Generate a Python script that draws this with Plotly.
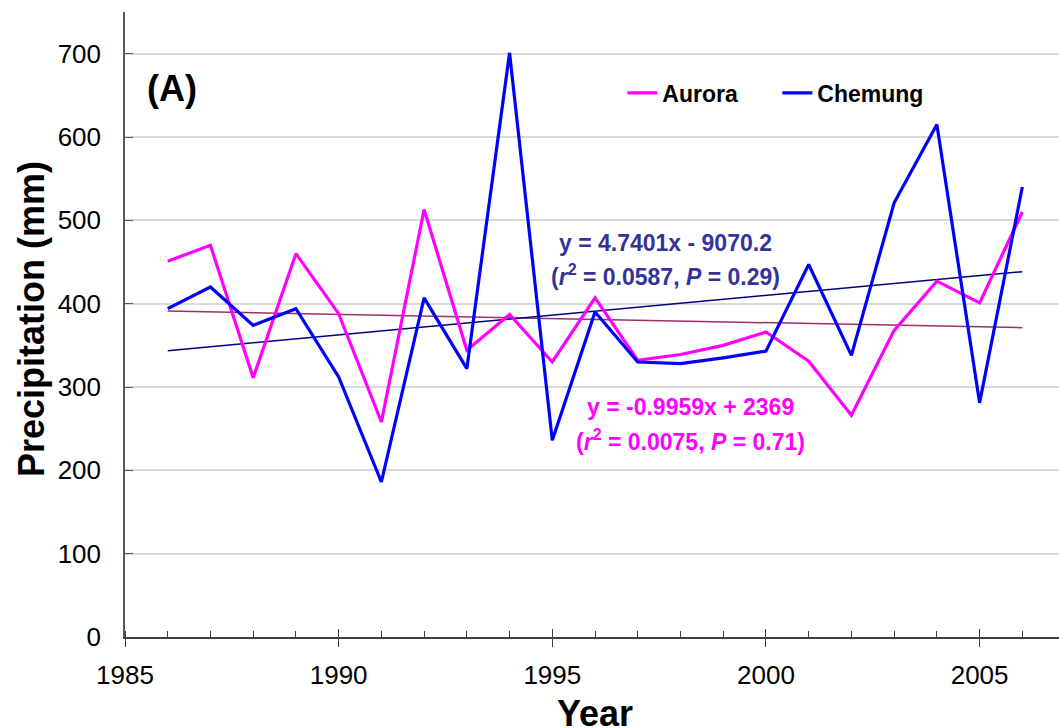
import numpy as np
import plotly.graph_objects as go

# Annual precipitation (mm) for two watersheds
years = list(range(1986, 2007))
aurora = [451, 470, 311, 460, 388, 258, 513, 344, 387, 330, 407,
          332, 339, 350, 366, 331, 266, 368, 427, 401, 510]
chemung = [394, 420, 374, 394, 312, 186, 407, 322, 701, 236, 390,
           330, 328, 335, 343, 447, 338, 521, 615, 281, 540]

# Linear fits: precipitation = slope * year + intercept
fit_names = ["Aurora", "Chemung"]
fit_slope = [-0.9959, 4.7401]
fit_intercept = [2369.0, -9070.2]
fit_r2 = ["0.0075", "0.0587"]
fit_p = ["0.71", "0.29"]

y_ticks = [0, 100, 200, 300, 400, 500, 600, 700]
x_ticks = [1985, 1990, 1995, 2000, 2005]

FONT = "Liberation Sans, Arial, sans-serif"
MAGENTA = "#FF00FF"
BLUE = "#0000FF"
TREND_COLORS = ["#993366", "#000080"]
TEXT_COLORS = [MAGENTA, "#333399"]

fig = go.Figure()

# Trend lines from the fitted equations
fx = np.array([years[0], years[-1]], dtype=float)
for i in range(2):
    fig.add_trace(go.Scatter(
        x=fx, y=fit_slope[i] * fx + fit_intercept[i],
        mode="lines", line=dict(color=TREND_COLORS[i], width=1.5),
        showlegend=False, hoverinfo="skip"))

fig.add_trace(go.Scatter(x=years, y=aurora, name="Aurora", mode="lines",
                         line=dict(color=MAGENTA, width=3.2)))
fig.add_trace(go.Scatter(x=years, y=chemung, name="Chemung", mode="lines",
                         line=dict(color=BLUE, width=3.2)))

# Invisible trace on the overlay axis so the crossing major ticks render
fig.add_trace(go.Scatter(x=[1985], y=[0], xaxis="x2", mode="markers",
                         marker=dict(opacity=0), showlegend=False,
                         hoverinfo="skip"))

x_range = [1985, 1985 + 934 / 42.73]
tick_font = dict(size=26, family=FONT, color="black")

fig.update_layout(
    width=1059, height=728,
    margin=dict(l=125, r=0, t=12, b=91),
    paper_bgcolor="white", plot_bgcolor="white",
    font=dict(family=FONT, color="black", size=24),
    showlegend=True,
    legend=dict(orientation="h", x=0.5325, y=0.8704, xanchor="left",
                yanchor="middle",
                font=dict(size=23, family=FONT, weight="bold"),
                bgcolor="rgba(0,0,0,0)", itemwidth=30,
                entrywidth=110, entrywidthmode="pixels"),
    xaxis=dict(
        range=x_range, tickvals=x_ticks, ticktext=[str(v) for v in x_ticks],
        tickfont=tick_font,
        showgrid=False, zeroline=False,
        showline=True, linecolor="#404040", linewidth=1.5,
        ticks="outside", ticklen=8, tickwidth=1.3, tickcolor="#404040",
        ticklabelstandoff=6,
        minor=dict(ticks="inside", dtick=1, tick0=1985, ticklen=6,
                   tickwidth=1, tickcolor="#404040", showgrid=False),
    ),
    xaxis2=dict(
        overlaying="x", matches="x", side="bottom", anchor="y",
        tickvals=x_ticks, showticklabels=False, showgrid=False,
        zeroline=False, showline=False,
        ticks="inside", ticklen=8, tickwidth=1.3, tickcolor="#404040",
    ),
    yaxis=dict(
        range=[0, 750], tickvals=y_ticks, ticktext=[str(v) for v in y_ticks],
        tickfont=tick_font,
        showgrid=True, gridcolor="#D9D9D9", gridwidth=1.5,
        zeroline=False,
        showline=True, linecolor="#595959", linewidth=1.5,
        ticks="inside", ticklen=8, tickwidth=1.3, tickcolor="#595959",
        ticklabelstandoff=17,
    ),
)

def px_to_paper(px, py):
    return (px - 125) / 934, (637 - py) / 625

# Axis titles
tx, ty = px_to_paper(595, 713)
fig.add_annotation(x=tx, y=ty, xref="paper", yref="paper", showarrow=False,
                   xanchor="center", yanchor="middle",
                   text="<b>Year</b>", font=dict(size=36, family=FONT))
tx, ty = px_to_paper(31, 319)
fig.add_annotation(x=tx, y=ty, xref="paper", yref="paper", showarrow=False,
                   xanchor="center", yanchor="middle", textangle=-90,
                   text="<b>Precipitation (mm)</b>",
                   font=dict(size=36, family=FONT))

# Panel label
ax, ay = px_to_paper(172, 88)
fig.add_annotation(x=ax, y=ay, xref="paper", yref="paper", showarrow=False,
                   xanchor="center", yanchor="middle",
                   text="<b>(A)</b>", font=dict(size=36, family=FONT))

# Fit equations and statistics
eq_pos = [((690, 407), (690, 440)), ((665, 243), (665, 275))]
for i in range(2):
    s = fit_slope[i]
    b = fit_intercept[i]
    sign = "+" if b >= 0 else "-"
    b_txt = f"{abs(b):g}"
    line1 = f"<b>y = {s:.4f}x {sign} {b_txt}</b>"
    line2 = (f"<b>(<i>r</i><sup>2</sup> = {fit_r2[i]}, "
             f"<i>P</i> = {fit_p[i]})</b>")
    for (px, py), txt in zip(eq_pos[i], [line1, line2]):
        x0, y0 = px_to_paper(px, py)
        fig.add_annotation(x=x0, y=y0, xref="paper", yref="paper",
                           showarrow=False, text=txt,
                           xanchor="center", yanchor="middle",
                           font=dict(size=23, family=FONT,
                                     color=TEXT_COLORS[i]))

fig.write_html("out.html")
